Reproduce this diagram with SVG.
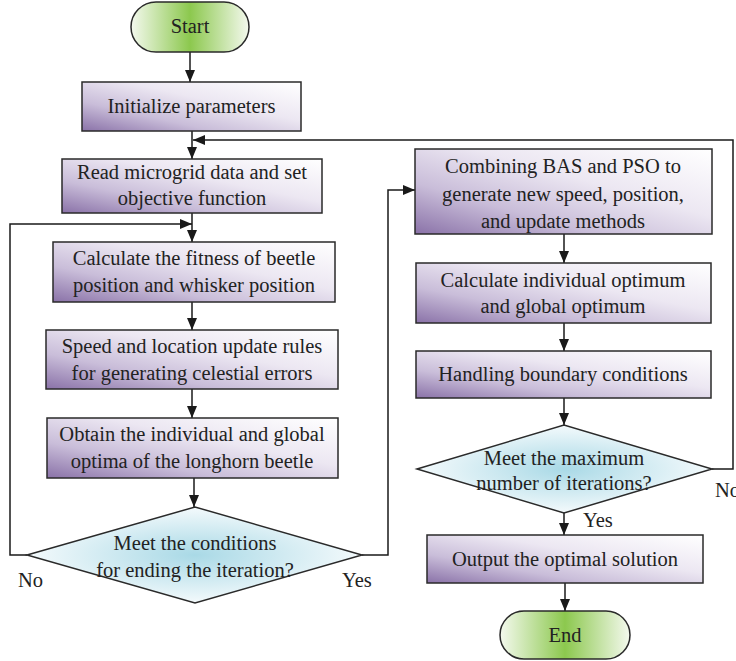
<svg xmlns="http://www.w3.org/2000/svg" width="736" height="661" viewBox="0 0 736 661">
<defs>
<linearGradient id="gBox" x1="0" y1="1" x2="1" y2="0">
<stop offset="0" stop-color="#8a72a8"/>
<stop offset="0.3" stop-color="#c9bdd9"/>
<stop offset="0.6" stop-color="#ece7f2"/>
<stop offset="1" stop-color="#ffffff"/>
</linearGradient>
<linearGradient id="gTerm" x1="0" y1="0" x2="1" y2="0">
<stop offset="0" stop-color="#f4f9ee"/>
<stop offset="0.5" stop-color="#8cc84e"/>
<stop offset="1" stop-color="#f4f9ee"/>
</linearGradient>
<radialGradient id="gDia" cx="0.5" cy="0.5" r="0.5">
<stop offset="0" stop-color="#a9d9e6"/>
<stop offset="1" stop-color="#f4fafc"/>
</radialGradient>
<marker id="arr" viewBox="0 0 12 10" refX="12" refY="5" markerWidth="12" markerHeight="10" markerUnits="userSpaceOnUse" orient="auto">
<path d="M0,0 L12,5 L0,10 Z" fill="#1a1a1a"/>
</marker>
<style>
.box{fill:url(#gBox);stroke:#2a2a2a;stroke-width:1.5}
.term{fill:url(#gTerm);stroke:#2a2a2a;stroke-width:1.5}
.dia{fill:url(#gDia);stroke:#2a2a2a;stroke-width:1.5}
.c{fill:none;stroke:#1a1a1a;stroke-width:1.5}
text{font-family:"Liberation Serif","Times New Roman",serif;font-size:20.5px;fill:#222;text-anchor:middle}
.lab{text-anchor:start}
</style>
</defs>
<g id="connectors">
<path class="c" d="M190,52 V82" marker-end="url(#arr)"/>
<path class="c" d="M192,131 V159" marker-end="url(#arr)"/>
<path class="c" d="M712,469 H733 V140 H193" marker-end="url(#arr)"/>
<path class="c" d="M192,213 V242" marker-end="url(#arr)"/>
<path class="c" d="M27,555 H10 V224 H192" marker-end="url(#arr)"/>
<path class="c" d="M192,302 V330" marker-end="url(#arr)"/>
<path class="c" d="M192,389 V418" marker-end="url(#arr)"/>
<path class="c" d="M194,478 V507" marker-end="url(#arr)"/>
<path class="c" d="M362,555 H388 V190 H415" marker-end="url(#arr)"/>
<path class="c" d="M564,234 V263" marker-end="url(#arr)"/>
<path class="c" d="M564,323 V351" marker-end="url(#arr)"/>
<path class="c" d="M564,398 V425" marker-end="url(#arr)"/>
<path class="c" d="M564,513 V535" marker-end="url(#arr)"/>
<path class="c" d="M565,583 V611" marker-end="url(#arr)"/>
<text class="lab" x="18" y="587">No</text>
<text class="lab" x="342" y="587">Yes</text>
<text class="lab" x="583" y="527">Yes</text>
<text class="lab" x="715" y="497">No</text>
</g>
<g id="start">
<rect class="term" x="131" y="2" width="118" height="50" rx="25"/>
<text x="190" y="33">Start</text>
</g>
<g id="init">
<rect class="box" x="82" y="82" width="219" height="49"/>
<text x="191.5" y="113">Initialize parameters</text>
</g>
<g id="read">
<rect class="box" x="62" y="159" width="260" height="54"/>
<text x="192" y="179">Read microgrid data and set</text>
<text x="192" y="205">objective function</text>
</g>
<g id="fitness">
<rect class="box" x="53" y="242" width="282" height="60"/>
<text x="194" y="265">Calculate the fitness of beetle</text>
<text x="194" y="292">position and whisker position</text>
</g>
<g id="speed">
<rect class="box" x="46" y="330" width="292" height="59"/>
<text x="192" y="353">Speed and location update rules</text>
<text x="192" y="380">for generating celestial errors</text>
</g>
<g id="obtain">
<rect class="box" x="47" y="418" width="291" height="60"/>
<text x="192" y="441">Obtain the individual and global</text>
<text x="192" y="468">optima of the longhorn beetle</text>
</g>
<g id="cond1">
<polygon class="dia" points="27,555 195,507 362,555 195,603"/>
<text x="195" y="550">Meet the conditions</text>
<text x="195" y="577">for ending the iteration?</text>
</g>
<g id="combine">
<rect class="box" x="415" y="149" width="297" height="85"/>
<text x="563" y="173">Combining BAS and PSO to</text>
<text x="563" y="201">generate new speed, position,</text>
<text x="563" y="228">and update methods</text>
</g>
<g id="calcopt">
<rect class="box" x="416" y="263" width="295" height="60"/>
<text x="563" y="287">Calculate individual optimum</text>
<text x="563" y="313">and global optimum</text>
</g>
<g id="boundary">
<rect class="box" x="416" y="351" width="295" height="47"/>
<text x="563" y="381">Handling boundary conditions</text>
</g>
<g id="cond2">
<polygon class="dia" points="417,469 564,425 712,469 564,513"/>
<text x="564" y="465">Meet the maximum</text>
<text x="564" y="490">number of iterations?</text>
</g>
<g id="output">
<rect class="box" x="427" y="535" width="276" height="48"/>
<text x="565" y="566">Output the optimal solution</text>
</g>
<g id="end">
<rect class="term" x="500" y="611" width="130" height="48" rx="24"/>
<text x="565" y="642">End</text>
</g>
</svg>
